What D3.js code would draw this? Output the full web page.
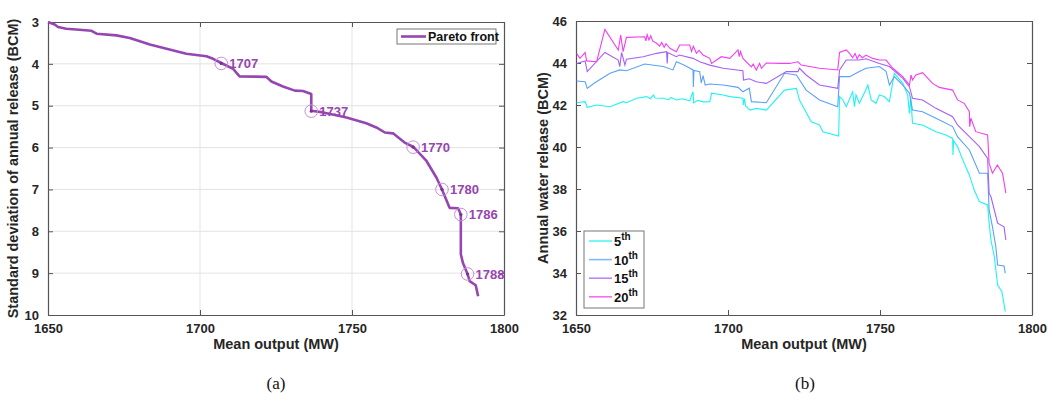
<!DOCTYPE html>
<html>
<head>
<meta charset="utf-8">
<script src="https://cdn.jsdelivr.net/npm/d3@7"></script>
<style>
  body { margin: 0; background: #fff; }
  text { font-family: "Liberation Sans", Arial, sans-serif; }
  text.caption { font-family: "Liberation Serif", "Times New Roman", serif; }
</style>
</head>
<body>
<svg width="1048" height="404"></svg>
<script>
// ---- data (a): Pareto front, [mean output MW, std of release BCM]
var pareto = [
  [1650.0, 3.00], [1652.2, 3.06], [1653.3, 3.12], [1656.0, 3.16], [1659.3, 3.18],
  [1664.3, 3.21], [1666.0, 3.28], [1672.5, 3.32], [1676.9, 3.38], [1683.5, 3.54],
  [1689.0, 3.64], [1695.5, 3.76], [1702.1, 3.82], [1704.3, 3.88], [1707.0, 3.98],
  [1710.9, 4.12], [1713.0, 4.30], [1721.8, 4.31], [1723.5, 4.42], [1727.3, 4.54],
  [1731.2, 4.64], [1733.9, 4.65], [1736.6, 4.72], [1736.6, 5.12], [1740.5, 5.16],
  [1748.2, 5.28], [1754.7, 5.42], [1758.0, 5.52], [1760.8, 5.64], [1763.5, 5.66],
  [1767.3, 5.88], [1770.1, 5.98], [1774.5, 6.32], [1777.8, 6.72], [1779.6, 7.00],
  [1782.1, 7.44], [1784.9, 7.45], [1785.8, 7.60], [1785.8, 8.55], [1786.5, 8.76],
  [1788.0, 9.02], [1788.7, 9.19], [1790.7, 9.29], [1791.5, 9.55]
];
var markLabels = ["1707", "1737", "1770", "1780", "1786", "1788"];
var markX = [1707.0, 1736.6, 1770.1, 1779.6, 1785.8, 1788.0];
var markY = [3.99, 5.13, 5.99, 7.00, 7.60, 9.02];

// ---- data (b): annual water release percentiles, [mean output MW, BCM]
var p5 = [
  [1650.2, 42.11], [1653.0, 42.16], [1653.7, 41.89], [1656.8, 42.00], [1661.2, 41.92],
  [1665.5, 42.16], [1666.6, 42.11], [1670.0, 42.32], [1673.2, 42.40], [1674.5, 42.30],
  [1675.5, 42.48], [1676.0, 42.33], [1678.7, 42.32], [1680.5, 42.25], [1681.2, 42.36],
  [1683.0, 42.24], [1685.0, 42.30], [1687.4, 42.20], [1688.5, 42.63], [1688.7, 42.10],
  [1690.0, 42.22], [1692.0, 42.15], [1694.0, 42.16], [1694.6, 42.56], [1698.4, 42.48],
  [1700.6, 42.40], [1704.9, 42.32], [1705.1, 42.00], [1705.4, 42.30], [1705.8, 41.95],
  [1707.2, 41.76], [1709.3, 41.84], [1712.6, 41.76], [1718.6, 42.71], [1722.5, 42.79],
  [1723.5, 42.24], [1727.4, 41.20], [1730.1, 41.05], [1731.2, 40.73], [1736.4, 40.52],
  [1736.7, 42.40], [1737.8, 42.24], [1738.9, 41.92], [1741.0, 42.63], [1741.6, 41.92],
  [1742.1, 42.48], [1743.2, 42.08], [1744.8, 42.56], [1746.0, 42.95], [1747.1, 42.24],
  [1748.7, 42.08], [1749.8, 42.48], [1751.4, 42.40], [1753.1, 42.16], [1754.7, 43.51],
  [1757.5, 43.03], [1759.1, 42.48], [1759.7, 41.60], [1760.1, 42.40], [1760.7, 41.13],
  [1764.0, 41.05], [1768.4, 40.73], [1771.7, 40.57], [1773.9, 40.41], [1774.0, 39.62],
  [1774.2, 40.30], [1775.5, 40.02], [1777.7, 39.22], [1779.4, 38.67], [1781.0, 37.95],
  [1782.7, 37.40], [1785.4, 37.24], [1785.9, 36.37], [1786.5, 35.57], [1787.6, 34.78],
  [1788.7, 33.43], [1790.1, 33.11], [1791.2, 32.16]
];
var p10 = [
  [1650.2, 43.14], [1653.0, 43.11], [1653.7, 42.79], [1656.2, 43.06], [1661.2, 43.51],
  [1664.4, 43.67], [1666.6, 43.63], [1672.6, 43.95], [1678.7, 43.83], [1681.9, 43.67],
  [1683.0, 44.06], [1685.5, 43.90], [1688.5, 43.67], [1688.6, 42.86], [1688.8, 43.65],
  [1690.7, 43.59], [1691.2, 43.05], [1691.8, 43.40], [1692.5, 42.95], [1694.0, 43.00],
  [1698.4, 42.95], [1703.3, 42.84], [1704.9, 42.63], [1707.0, 42.80], [1707.7, 42.16],
  [1712.6, 42.11], [1718.6, 43.51], [1722.5, 43.43], [1725.7, 42.71], [1730.1, 42.24],
  [1736.1, 41.92], [1736.7, 43.35], [1740.0, 43.35], [1743.2, 43.59], [1745.4, 43.75],
  [1749.8, 43.83], [1752.0, 43.60], [1753.1, 42.95], [1754.7, 43.35], [1757.5, 42.95],
  [1759.7, 42.56], [1760.7, 41.76], [1764.0, 41.68], [1768.4, 41.37], [1773.9, 40.97],
  [1775.5, 40.49], [1779.4, 39.86], [1782.7, 38.75], [1785.4, 38.75], [1785.9, 37.00],
  [1787.0, 36.20], [1788.1, 35.25], [1788.7, 34.38], [1790.8, 34.33], [1791.2, 33.99]
];
var p15 = [
  [1650.2, 43.98], [1653.0, 44.10], [1653.7, 43.59], [1659.5, 44.50], [1663.9, 44.14],
  [1664.4, 43.83], [1665.0, 44.50], [1666.1, 43.90], [1666.6, 44.18], [1672.1, 44.30],
  [1676.5, 44.46], [1679.8, 44.54], [1680.0, 43.98], [1680.2, 44.50], [1683.0, 44.30],
  [1684.0, 44.38], [1688.5, 44.22], [1690.7, 44.06], [1694.0, 43.90], [1698.4, 43.75],
  [1704.9, 43.63], [1705.1, 43.19], [1707.0, 43.25], [1709.3, 43.11], [1712.6, 43.03],
  [1719.2, 43.59], [1723.0, 43.59], [1723.5, 43.75], [1725.7, 43.43], [1730.1, 42.95],
  [1736.1, 42.79], [1736.7, 43.67], [1738.9, 44.14], [1743.2, 44.14], [1745.4, 44.20],
  [1749.8, 43.98], [1753.1, 43.83], [1757.5, 43.27], [1759.7, 42.86], [1760.7, 42.32],
  [1764.0, 42.24], [1768.4, 41.84], [1773.9, 41.44], [1775.5, 41.05], [1779.4, 40.49],
  [1782.7, 40.02], [1785.4, 39.46], [1785.9, 37.80], [1786.5, 37.63], [1787.6, 37.00],
  [1788.7, 36.37], [1790.8, 36.20], [1791.4, 35.57]
];
var p20 = [
  [1650.2, 44.46], [1651.3, 44.22], [1653.0, 44.50], [1653.5, 44.10], [1656.8, 44.06],
  [1659.5, 45.60], [1663.9, 44.62], [1664.7, 45.33], [1665.5, 44.54], [1666.6, 45.22],
  [1672.6, 45.25], [1673.0, 45.05], [1673.4, 45.35], [1674.0, 45.10], [1674.6, 45.30],
  [1675.2, 45.05], [1676.5, 44.94], [1677.5, 44.80], [1678.2, 44.98], [1679.0, 44.75],
  [1679.6, 44.92], [1680.9, 44.70], [1683.0, 44.54], [1684.1, 44.86], [1687.4, 44.86],
  [1688.0, 44.55], [1688.6, 44.80], [1689.6, 44.46], [1690.5, 44.60], [1691.8, 44.38],
  [1694.0, 44.22], [1694.6, 43.98], [1697.8, 44.30], [1700.6, 44.22], [1703.3, 44.62],
  [1703.7, 44.30], [1704.1, 44.55], [1704.9, 44.22], [1707.7, 43.82], [1708.3, 43.95],
  [1709.3, 43.67], [1710.4, 43.98], [1711.0, 43.75], [1712.6, 44.00], [1717.0, 43.98],
  [1720.3, 43.98], [1723.0, 44.06], [1724.1, 43.90], [1730.1, 43.75], [1736.1, 43.67],
  [1736.7, 44.50], [1738.9, 44.62], [1740.0, 44.46], [1741.0, 44.25], [1741.8, 44.45],
  [1742.5, 44.20], [1743.2, 44.40], [1744.2, 44.25], [1745.4, 44.38], [1747.6, 44.22],
  [1749.8, 44.14], [1752.0, 44.14], [1754.2, 43.75], [1757.5, 43.35], [1759.7, 42.95],
  [1760.2, 43.43], [1760.7, 43.19], [1761.8, 43.43], [1764.0, 43.54], [1767.3, 43.03],
  [1769.5, 42.84], [1773.9, 42.71], [1775.5, 42.24], [1777.7, 42.08], [1779.4, 41.68],
  [1779.5, 40.97], [1779.9, 41.37], [1781.5, 40.73], [1785.4, 40.57], [1785.9, 39.22],
  [1787.0, 38.75], [1788.6, 39.14], [1790.3, 38.75], [1791.4, 37.80]
];
var seriesNames = ["5", "10", "15", "20"];
var seriesColors = ["#1ff3f3", "#5aa2f7", "#a660f4", "#f23ef2"];
var seriesData = [p5, p10, p15, p20];

var xTicks = [1650, 1700, 1750, 1800];
var yTicksA = [3, 4, 5, 6, 7, 8, 9, 10];
var yTicksB = [32, 34, 36, 38, 40, 42, 44, 46];

var svg = d3.select("svg");
var purple = "#9646b0";
var fmt = d3.format("d");

// inward ticks on all four sides, MATLAB style
function drawBox(g, x, y, xt, yt, w, h) {
    g.append("g").attr("transform", "translate(0," + h + ")")
        .call(d3.axisBottom(x).tickValues(xt).tickFormat(fmt).tickSizeInner(-5).tickSizeOuter(0).tickPadding(9));
    g.append("g")
        .call(d3.axisTop(x).tickValues(xt).tickSizeInner(-5).tickSizeOuter(0).tickFormat(""));
    g.append("g")
        .call(d3.axisLeft(y).tickValues(yt).tickFormat(fmt).tickSizeInner(-5).tickSizeOuter(0).tickPadding(9));
    g.append("g").attr("transform", "translate(" + w + ",0)")
        .call(d3.axisRight(y).tickValues(yt).tickSizeInner(-5).tickSizeOuter(0).tickFormat(""));
    g.selectAll(".domain").attr("stroke", "#555").attr("stroke-width", 1.2);
    g.selectAll(".tick line").attr("stroke", "#555");
    g.selectAll(".tick text").attr("font-size", 13).attr("font-weight", "bold")
        .attr("fill", "#262626");
}

// ---------------- panel (a)
var A = { left: 48, top: 22, w: 456, h: 293 };
var gA = svg.append("g").attr("transform", "translate(" + A.left + "," + A.top + ")");
var xA = d3.scaleLinear().domain([1650, 1800]).range([0, A.w]);
var yA = d3.scaleLinear().domain([3, 10]).range([0, A.h]);

gA.append("g").selectAll("line").data(xTicks.slice(1, -1)).enter().append("line")
    .attr("x1", d => xA(d)).attr("x2", d => xA(d)).attr("y1", 0).attr("y2", A.h)
    .attr("stroke", "#e3e3e3");
gA.append("g").selectAll("line").data(yTicksA.slice(1, -1)).enter().append("line")
    .attr("y1", d => yA(d)).attr("y2", d => yA(d)).attr("x1", 0).attr("x2", A.w)
    .attr("stroke", "#e3e3e3");

drawBox(gA, xA, yA, xTicks, yTicksA, A.w, A.h);

var lineA = d3.line().x(d => xA(d[0])).y(d => yA(d[1]));
gA.append("path").datum(pareto).attr("d", lineA)
    .attr("fill", "none").attr("stroke", purple).attr("stroke-width", 2.6)
    .attr("stroke-linejoin", "round");

var marks = markX.map((d, i) => ({ x: d, y: markY[i], label: markLabels[i] }));
gA.selectAll("circle.mk").data(marks).enter().append("circle").attr("class", "mk")
    .attr("cx", d => xA(d.x)).attr("cy", d => yA(d.y)).attr("r", 6.3)
    .attr("fill", "none").attr("stroke", "#c48fd6").attr("stroke-width", 1);
gA.selectAll("circle.dot").data(marks).enter().append("circle").attr("class", "dot")
    .attr("cx", d => xA(d.x)).attr("cy", d => yA(d.y)).attr("r", 1.6).attr("fill", "#7a2f95");
gA.selectAll("text.mk").data(marks).enter().append("text").attr("class", "mk")
    .attr("x", d => xA(d.x) + 8).attr("y", d => yA(d.y)).attr("dy", "0.35em")
    .attr("font-size", 13).attr("font-weight", "bold").attr("fill", purple)
    .text(d => d.label);

// legend (a)
var legA = gA.append("g").attr("transform", "translate(" + (A.w - 107) + ",7)");
legA.append("rect").attr("width", 99).attr("height", 15)
    .attr("fill", "#fff").attr("stroke", "#777").attr("stroke-width", 1);
legA.append("line").attr("x1", 4).attr("x2", 29).attr("y1", 7.5).attr("y2", 7.5)
    .attr("stroke", purple).attr("stroke-width", 2.6);
legA.append("text").attr("x", 31).attr("y", 7.5).attr("dy", "0.35em")
    .attr("font-size", 12.5).attr("font-weight", "bold").attr("fill", "#111").text("Pareto front");

gA.append("text").attr("x", A.w / 2).attr("y", 327).attr("text-anchor", "middle")
    .attr("font-size", 14.5).attr("font-weight", "bold").attr("fill", "#262626")
    .text("Mean output (MW)");
gA.append("text").attr("transform", "translate(-30," + (A.h / 2) + ") rotate(-90)")
    .attr("text-anchor", "middle")
    .attr("font-size", 14.5).attr("font-weight", "bold").attr("fill", "#262626")
    .text("Standard deviation of annual release (BCM)");

// ---------------- panel (b)
var B = { left: 576, top: 21, w: 456, h: 294 };
var gB = svg.append("g").attr("transform", "translate(" + B.left + "," + B.top + ")");
var xB = d3.scaleLinear().domain([1650, 1800]).range([0, B.w]);
var yB = d3.scaleLinear().domain([32, 46]).range([B.h, 0]);

drawBox(gB, xB, yB, xTicks, yTicksB, B.w, B.h);

var lineB = d3.line().x(d => xB(d[0])).y(d => yB(d[1]));
gB.selectAll("path.ser").data(seriesData).enter().append("path").attr("class", "ser")
    .attr("d", lineB).attr("fill", "none")
    .attr("stroke", (d, i) => seriesColors[i]).attr("stroke-width", 1.1);

var legB = gB.append("g").attr("transform", "translate(8,210)");
legB.append("rect").attr("width", 60).attr("height", 77)
    .attr("fill", "#fff").attr("stroke", "#777").attr("stroke-width", 1);
seriesNames.forEach(function(n, i) {
    var yy = 10 + i * 18.6;
    legB.append("line").attr("x1", 5).attr("x2", 28).attr("y1", yy).attr("y2", yy)
        .attr("stroke", seriesColors[i]).attr("stroke-width", 1.6).attr("opacity", 0.75);
    var t = legB.append("text").attr("x", 30).attr("y", yy + 5)
        .attr("font-size", 13).attr("font-weight", "bold").attr("fill", "#111");
    t.append("tspan").text(n);
    t.append("tspan").attr("font-size", 10).attr("dy", -6).text("th");
});

gB.append("text").attr("x", B.w / 2).attr("y", 328).attr("text-anchor", "middle")
    .attr("font-size", 14.5).attr("font-weight", "bold").attr("fill", "#262626")
    .text("Mean output (MW)");
gB.append("text").attr("transform", "translate(-28," + (B.h / 2) + ") rotate(-90)")
    .attr("text-anchor", "middle")
    .attr("font-size", 14.5).attr("font-weight", "bold").attr("fill", "#262626")
    .text("Annual water release (BCM)");

// captions
svg.append("text").attr("class", "caption").attr("x", 276).attr("y", 389)
    .attr("text-anchor", "middle").attr("font-size", 17).attr("fill", "#111").text("(a)");
svg.append("text").attr("class", "caption").attr("x", 805).attr("y", 389)
    .attr("text-anchor", "middle").attr("font-size", 17).attr("fill", "#111").text("(b)");
</script>
</body>
</html>
